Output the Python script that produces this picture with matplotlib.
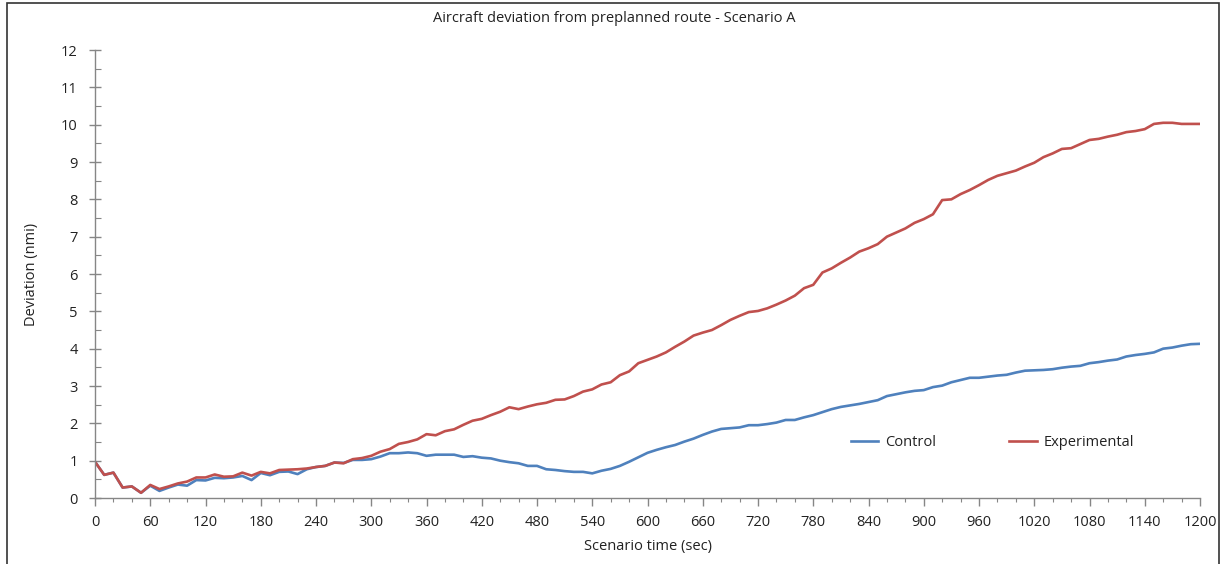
import matplotlib
matplotlib.use("Agg")
import matplotlib.pyplot as plt
from matplotlib.patches import Rectangle
from matplotlib.ticker import MultipleLocator

plt.rcParams['font.family'] = ['Open Sans', 'DejaVu Sans']

time_sec = list(range(0, 1201, 10))

control = [
    0.97, 0.62, 0.68, 0.28, 0.31, 0.14, 0.33, 0.19, 0.28, 0.36,
    0.33, 0.48, 0.47, 0.54, 0.53, 0.55, 0.59, 0.48, 0.67, 0.61,
    0.70, 0.71, 0.64, 0.77, 0.83, 0.86, 0.95, 0.94, 1.02, 1.02,
    1.04, 1.11, 1.20, 1.20, 1.22, 1.20, 1.13, 1.16, 1.16, 1.16,
    1.10, 1.12, 1.08, 1.06, 1.00, 0.96, 0.93, 0.86, 0.86, 0.77,
    0.75, 0.72, 0.70, 0.70, 0.66, 0.73, 0.78, 0.86, 0.97, 1.09,
    1.21, 1.29, 1.36, 1.42, 1.51, 1.59, 1.69, 1.78, 1.85, 1.87,
    1.89, 1.95, 1.95, 1.98, 2.02, 2.09, 2.09, 2.16, 2.22, 2.30,
    2.38, 2.44, 2.48, 2.52, 2.57, 2.62, 2.73, 2.78, 2.83, 2.87,
    2.89, 2.97, 3.01, 3.10, 3.16, 3.22, 3.22, 3.25, 3.28, 3.30,
    3.36, 3.41, 3.42, 3.43, 3.45, 3.49, 3.52, 3.54, 3.61, 3.64,
    3.68, 3.71, 3.79, 3.83, 3.86, 3.90, 4.00, 4.03, 4.08, 4.12,
    4.13,
]

experimental = [
    0.97, 0.62, 0.68, 0.28, 0.31, 0.14, 0.35, 0.24, 0.31, 0.39,
    0.44, 0.55, 0.55, 0.63, 0.57, 0.58, 0.68, 0.60, 0.70, 0.66,
    0.75, 0.76, 0.77, 0.79, 0.83, 0.86, 0.95, 0.93, 1.04, 1.07,
    1.13, 1.24, 1.31, 1.45, 1.50, 1.57, 1.71, 1.68, 1.79, 1.84,
    1.96, 2.07, 2.12, 2.22, 2.31, 2.43, 2.38, 2.45, 2.51, 2.55,
    2.63, 2.64, 2.73, 2.85, 2.91, 3.04, 3.10, 3.29, 3.39, 3.61,
    3.70, 3.79, 3.90, 4.05, 4.19, 4.35, 4.43, 4.50, 4.63, 4.77,
    4.88, 4.98, 5.01, 5.08, 5.18, 5.29, 5.42, 5.62, 5.71, 6.04,
    6.15, 6.30, 6.44, 6.60, 6.69, 6.80, 7.00, 7.11, 7.22, 7.37,
    7.47, 7.60, 7.98, 8.00, 8.14, 8.25, 8.38, 8.52, 8.63, 8.70,
    8.77, 8.88, 8.98, 9.13, 9.23, 9.35, 9.37, 9.48, 9.59, 9.62,
    9.68, 9.73, 9.80, 9.83, 9.88, 10.02, 10.05, 10.05, 10.02, 10.02,
    10.02,
]

x_ticks = list(range(0, 1201, 60))
y_ticks = list(range(0, 13, 1))

FS = 10.5
TXT = '#222222'
W, H = 1223, 564
fig = plt.figure(figsize=(W / 100, H / 100), dpi=100)
ax = fig.add_axes([95 / W, (H - 498) / H, (1200 - 95) / W, (498 - 50) / H])

ax.plot(time_sec, control, color='#4F81BD', lw=1.9, label='Control', solid_joinstyle='round')
ax.plot(time_sec, experimental, color='#C0504D', lw=1.9, label='Experimental', solid_joinstyle='round')

ax.set_xlim(0, 1200)
ax.set_ylim(0, 12)
ax.set_xticks(x_ticks)
ax.set_yticks(y_ticks)
ax.xaxis.set_minor_locator(MultipleLocator(20))
ax.yaxis.set_minor_locator(MultipleLocator(0.5))

for s in ['top', 'right']:
    ax.spines[s].set_visible(False)
for s in ['left', 'bottom']:
    ax.spines[s].set_color('#868686')
    ax.spines[s].set_linewidth(1.0)

ax.tick_params(axis='y', which='major', direction='inout', length=9, width=1,
               color='#868686', labelsize=FS, labelcolor=TXT, pad=8)
ax.tick_params(axis='y', which='minor', direction='in', length=4, width=0.8, color='#868686')
ax.tick_params(axis='x', which='major', direction='out', length=6, width=1,
               color='#868686', labelsize=FS, labelcolor=TXT, pad=6)
ax.tick_params(axis='x', which='minor', direction='out', length=3, width=0.8, color='#868686')

fig.text(614 / W, 1 - 18 / H, 'Aircraft deviation from preplanned route - Scenario A',
         fontsize=FS, color=TXT, ha='center', va='center')
ax.set_xlabel('Scenario time (sec)', fontsize=FS, color=TXT, labelpad=7)
ax.set_ylabel('Deviation (nmi)', fontsize=FS, color=TXT, labelpad=16)

ax.legend(loc='lower left', bbox_to_anchor=(0.672, 0.078), ncol=2, frameon=False,
          fontsize=FS, handlelength=1.9, handletextpad=0.45, columnspacing=5.0,
          labelcolor=TXT)

fig.patches.append(Rectangle((7 / W, -0.05), (W - 4 - 7) / W, 1.05 - 3 / H,
                             transform=fig.transFigure, fill=False,
                             edgecolor='#333333', lw=1.2, clip_on=False))

fig.savefig('out.png', dpi=100)
